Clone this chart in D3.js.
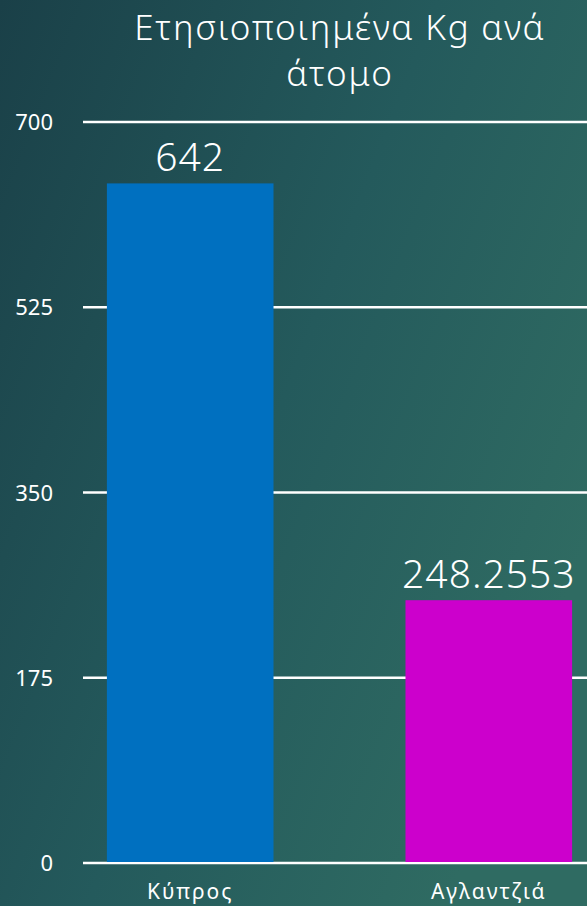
<!DOCTYPE html>
<html>
<head>
<meta charset="utf-8">
<script src="https://cdn.jsdelivr.net/npm/d3@7"></script>
<style>
  html, body { margin: 0; padding: 0; background: #1f4a50; }
  svg { display: block; }
  text { font-family: "Noto Sans", "DejaVu Sans", sans-serif; fill: #fff; }
</style>
</head>
<body>
<svg width="587" height="906"></svg>
<script>
// chart data
const categories = ["Κύπρος", "Αγλαντζιά"];
const values = [642, 248.2553];
const valueLabels = ["642", "248.2553"];
const barColors = ["#0070c0", "#cc00cc"];
const yTicks = [0, 175, 350, 525, 700];
const titleLines = ["Ετησιοποιημένα Kg ανά", "άτομο"];

const W = 587, H = 906;
const svg = d3.select("svg");

// background gradient
const defs = svg.append("defs");
const grad = defs.append("linearGradient")
  .attr("id", "bg")
  .attr("x1", "0%").attr("y1", "0%")
  .attr("x2", "100%").attr("y2", "60%");
grad.append("stop").attr("offset", "0%").attr("stop-color", "#1a4048");
grad.append("stop").attr("offset", "55%").attr("stop-color", "#245a5c");
grad.append("stop").attr("offset", "100%").attr("stop-color", "#2f6b62");
svg.append("rect").attr("width", W).attr("height", H).attr("fill", "url(#bg)");

const y = d3.scaleLinear().domain([0, 700]).range([863, 122]);
const x = d3.scaleBand()
  .domain(categories)
  .range([83, 596])
  .paddingInner(0.442)
  .paddingOuter(0.08);

// title
svg.append("text")
  .attr("x", 340).attr("y", 40)
  .attr("text-anchor", "middle")
  .style("font-size", "35px")
  .style("font-weight", 300)
  .style("letter-spacing", "1.8px")
  .selectAll("tspan")
  .data(titleLines)
  .join("tspan")
  .attr("x", 340)
  .attr("dy", (d, i) => i ? 46 : 0)
  .text(d => d);

// gridlines
svg.append("g")
  .selectAll("line")
  .data(yTicks)
  .join("line")
  .attr("x1", 83).attr("x2", W)
  .attr("y1", d => y(d)).attr("y2", d => y(d))
  .attr("stroke", "#fff")
  .attr("stroke-width", 2.5);

// y tick labels
svg.append("g")
  .selectAll("text")
  .data(yTicks)
  .join("text")
  .attr("x", 53)
  .attr("y", d => y(d) + 8)
  .attr("text-anchor", "end")
  .style("font-size", "22px")
  .text(d => d);

// bars
svg.append("g")
  .selectAll("rect")
  .data(values)
  .join("rect")
  .attr("x", (d, i) => x(categories[i]))
  .attr("width", x.bandwidth())
  .attr("y", d => y(d))
  .attr("height", d => y(0) - y(d) - 1)
  .attr("fill", (d, i) => barColors[i]);

// value labels
svg.append("g")
  .selectAll("text")
  .data(values)
  .join("text")
  .attr("x", (d, i) => x(categories[i]) + x.bandwidth() / 2)
  .attr("y", d => y(d) - 12)
  .attr("text-anchor", "middle")
  .style("font-size", "39px")
  .style("font-weight", 300)
  .style("letter-spacing", "1px")
  .text((d, i) => valueLabels[i]);

// category labels
svg.append("g")
  .selectAll("text")
  .data(categories)
  .join("text")
  .attr("x", d => x(d) + x.bandwidth() / 2)
  .attr("y", 899)
  .attr("text-anchor", "middle")
  .style("font-size", "21px")
  .style("letter-spacing", "2px")
  .text(d => d);
</script>
</body>
</html>
